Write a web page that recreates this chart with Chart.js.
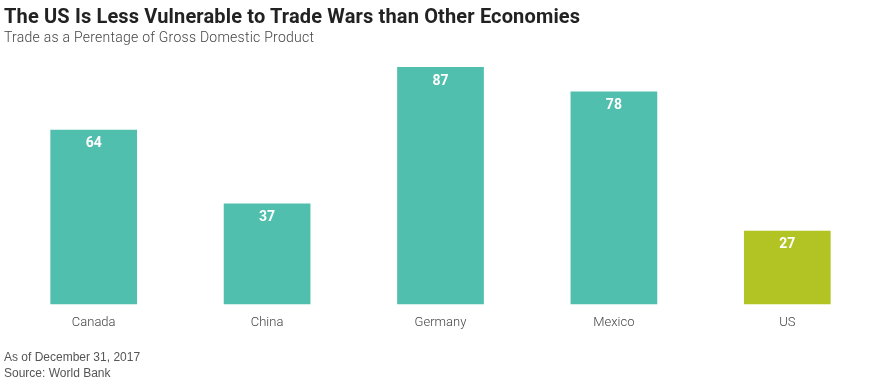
<!DOCTYPE html>
<html>
<head>
<meta charset="utf-8">
<script src="https://cdn.jsdelivr.net/npm/chart.js@4/dist/chart.umd.min.js"></script>
<style>
  body { margin: 0; background: #fff; }
  #wrap { position: relative; width: 880px; height: 380px; overflow: hidden; }
  #chart { position: absolute; left: 0; top: 0; }
  .txt { position: absolute; left: 4px; white-space: nowrap; }
  #title { top: 4px; font: bold 20px 'Roboto', sans-serif; color: #222; letter-spacing: 0.15px; }
  #sub { top: 29px; font: 300 14px 'Roboto', sans-serif; color: #444; letter-spacing: 0.25px; }
  #note { top: 349px; font: 12px 'Liberation Sans', sans-serif; color: #555; line-height: 16px; }
</style>
</head>
<body>
<div id="wrap">
  <canvas id="chart" width="880" height="380"></canvas>
  <div class="txt" id="title">The US Is Less Vulnerable to Trade Wars than Other Economies</div>
  <div class="txt" id="sub">Trade as a Perentage of Gross Domestic Product</div>
  <div class="txt" id="note">As of December 31, 2017<br>Source: World Bank</div>
</div>
<script>
var countries = ['Canada', 'China', 'Germany', 'Mexico', 'US'];
var tradeShare = [64, 37, 87, 78, 27];
var barColors = ['#50BFAD', '#50BFAD', '#50BFAD', '#50BFAD', '#B1C423'];

var valueLabels = {
    id: 'valueLabels',
    afterDatasetsDraw: function (chart) {
        var ctx = chart.ctx;
        var meta = chart.getDatasetMeta(0);
        ctx.save();
        ctx.fillStyle = '#fff';
        ctx.font = 'bold 14px Roboto, sans-serif';
        ctx.textAlign = 'center';
        ctx.textBaseline = 'middle';
        meta.data.forEach(function (bar, i) {
            ctx.fillText(String(tradeShare[i]), bar.x, bar.y + 14);
        });
        ctx.restore();
    },
};

new Chart(document.getElementById('chart'), {
    type: 'bar',
    data: {
        labels: countries,
        datasets: [
            {
                data: tradeShare,
                backgroundColor: barColors,
                borderWidth: 0,
                barPercentage: 0.5,
                categoryPercentage: 1,
            },
        ],
    },
    options: {
        responsive: false,
        animation: false,
        layout: {
            padding: { top: 67, left: 7, right: 6, bottom: 46 },
        },
        scales: {
            x: {
                grid: { display: false },
                border: { display: false },
                ticks: {
                    color: '#444',
                    font: { family: 'Roboto', size: 13, weight: 300 },
                    padding: 3,
                },
            },
            y: {
                display: false,
                min: 0,
                max: 87,
            },
        },
        plugins: {
            legend: { display: false },
            tooltip: { enabled: false },
        },
    },
    plugins: [valueLabels],
});
</script>
</body>
</html>
